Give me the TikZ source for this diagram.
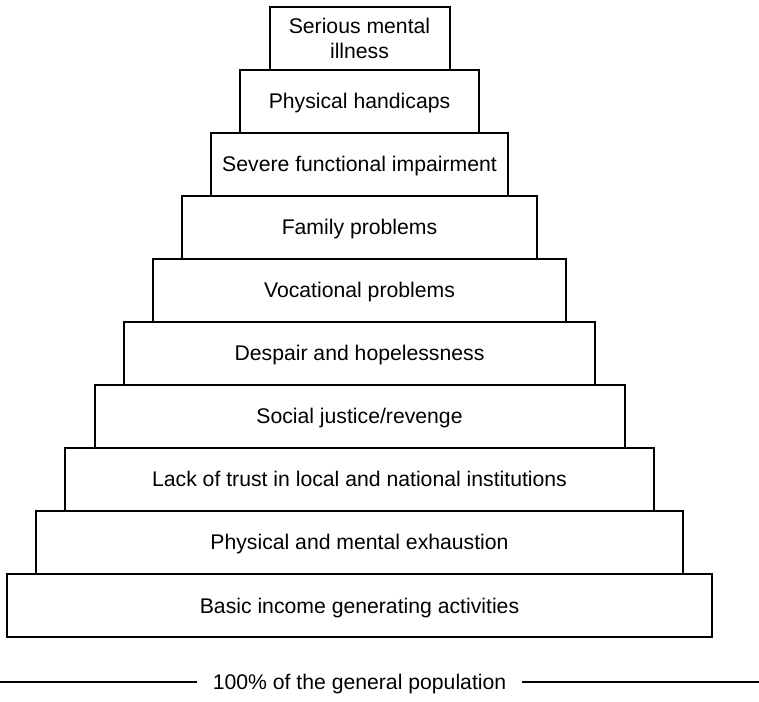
\documentclass[tikz,border=0pt]{standalone}
\usepackage{fontspec}
\setmainfont{Liberation Sans}
\usetikzlibrary{positioning}

\begin{document}
\begin{tikzpicture}[
    x=1pt, y=1pt,
    tier/.style={rectangle, draw=black, line width=2pt, inner sep=0pt, outer sep=0pt, minimum height=63pt, font=\fontsize{21.2}{25}\selectfont},
    level/.style={tier, text height=15pt, text depth=0pt},
    rule/.style={line width=2pt}
]
    \useasboundingbox (0,0) rectangle (759,701);
    \node[level, minimum width=705pt] (basic) at (359.5,95.5) {Basic income generating activities};
    \node[level, minimum width=646.7pt, above=0pt of basic] (exhaustion) {Physical and mental exhaustion};
    \node[level, minimum width=588.3pt, above=0pt of exhaustion] (trust) {Lack of trust in local and national institutions};
    \node[level, minimum width=530pt, above=0pt of trust] (justice) {Social justice/revenge};
    \node[level, minimum width=471.7pt, above=0pt of justice] (despair) {Despair and hopelessness};
    \node[level, minimum width=413.3pt, above=0pt of despair] (vocational) {Vocational problems};
    \node[level, minimum width=355pt, above=0pt of vocational] (family) {Family problems};
    \node[level, minimum width=296.7pt, above=0pt of family] (impairment) {Severe functional impairment};
    \node[level, minimum width=238.3pt, above=0pt of impairment] (handicaps) {Physical handicaps};
    \node[tier, minimum width=180pt, align=center, above=0pt of handicaps] (illness) {Serious mental\\illness};
    \node[font=\fontsize{21.2}{25}\selectfont, text height=15pt, text depth=0pt, inner xsep=16pt, inner ysep=0pt, outer sep=0pt] (total) at (359.5,19) {100\% of the general population};
    \coordinate (lend) at (0,19);
    \coordinate (rend) at (759,19);
    \draw[rule] (lend) -- (total.west);
    \draw[rule] (total.east) -- (rend);
\end{tikzpicture}
\end{document}
